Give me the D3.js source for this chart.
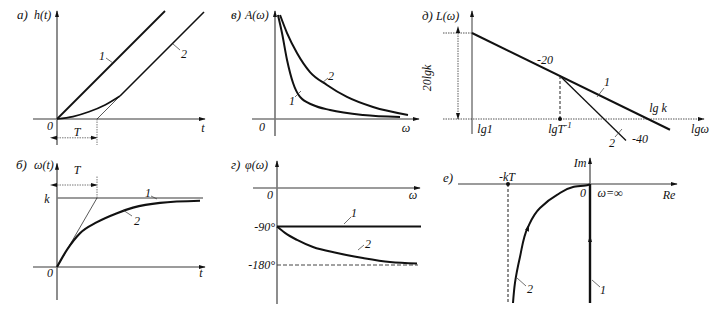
<!DOCTYPE html>
<html>
<head>
<meta charset="utf-8">
<script src="https://cdn.jsdelivr.net/npm/d3@7"></script>
<style>
  body { margin: 0; background: #fff; }
</style>
</head>
<body>
<svg width="724" height="322"></svg>
<script>
// values (T = 1, k = 1 in each panel's own units)

// а) h(t): line 1 and curve 2 with its asymptote
var hLine1T = [0, 2.7], hLine1 = [0, 2.7];
var hCurve2T = [0, 0.4, 0.8, 1.2, 1.575];
var hCurve2 = [0, 0.06, 0.18, 0.35, 0.575];
var hLine2T = [1.575, 3.675], hLine2 = [0.575, 2.675];

// б) ω(t)
var wT = [0, 0.25, 0.575, 1, 1.5, 1.9, 2.575, 3.575];
var wCurve2 = [0, 0.25, 0.49, 0.65, 0.78, 0.86, 0.93, 0.96];

// в) A(ω)
var aW1 = [0.21, 0.5, 0.86, 1.29, 1.79, 2.71, 3.93, 6.29, 8.93];
var aCurve1 = [9.81, 8.11, 5.57, 3.40, 2.08, 1.32, 0.85, 0.38, 0.19];
var aW2 = [0.36, 0.86, 1.57, 2.5, 3.71, 5.14, 7.0, 9.5];
var aCurve2 = [9.81, 8.11, 6.23, 4.43, 3.21, 2.08, 1.13, 0.38];

// д) L(ω), lg ω in decades, L in dB
var lTicks = [0, 1, 2], lTickLabels = ["lg1", "lgT", "lg k"];
var lLine1W = [0, 2.25], lLine1 = [40, -5];
var lLine2W = [1, 1.75], lLine2 = [20, -10];

// г) φ(ω), degrees
var pW = [0, 0.57, 1.43, 2.57, 4.29, 6.14, 8.07, 10];
var pCurve2 = [-90, -105, -121.5, -138, -152, -163.6, -173, -176.5];

// е) W(jω) plane
var nRe2 = [-0.939, -0.915, -0.854, -0.756, -0.61, -0.402, -0.207, -0.024, 0];
var nIm2 = [-1.451, -1.207, -0.89, -0.524, -0.293, -0.134, -0.037, -0.012, 0];

var svg = d3.select("svg");
var defs = svg.append("defs");
defs.append("marker").attr("id", "arr").attr("viewBox", "0 -4 10 8")
  .attr("refX", 9).attr("refY", 0).attr("markerWidth", 7).attr("markerHeight", 6)
  .attr("markerUnits", "userSpaceOnUse").attr("orient", "auto")
  .append("path").attr("d", "M0,-3L10,0L0,3Z").attr("fill", "#111");
defs.append("marker").attr("id", "arrS").attr("viewBox", "0 -4 10 8")
  .attr("refX", 0).attr("refY", 0).attr("markerWidth", 7).attr("markerHeight", 6)
  .attr("markerUnits", "userSpaceOnUse").attr("orient", "auto-start-reverse")
  .append("path").attr("d", "M0,-3L10,0L0,3Z").attr("fill", "#111");

function seg(x1, y1, x2, y2, w, col, dash) {
  var l = svg.append("line").attr("x1", x1).attr("y1", y1).attr("x2", x2).attr("y2", y2)
    .attr("stroke", col || "#111").attr("stroke-width", w || 1);
  if (dash) l.attr("stroke-dasharray", dash);
  return l;
}
function axis(x1, y1, x2, y2, w, col, dash) {
  return seg(x1, y1, x2, y2, w || 1.7, col || "#7a7a7a", dash).attr("marker-end", "url(#arr)");
}
function txt(x, y, s, anchor, size) {
  var t = svg.append("text").attr("x", x).attr("y", y).text(s)
    .attr("font-family", "Liberation Serif").attr("font-style", "italic")
    .attr("font-size", size || 12).attr("fill", "#111");
  if (anchor) t.attr("text-anchor", anchor);
  return t;
}
function curve(xs, ys, sx, sy, w, kind) {
  var pts = xs.map(function(d, i) { return [d, ys[i]]; });
  var line = d3.line().x(function(d) { return sx(d[0]); }).y(function(d) { return sy(d[1]); })
    .curve(kind || d3.curveLinear);
  return svg.append("path").attr("d", line(pts)).attr("fill", "none")
    .attr("stroke", "#111").attr("stroke-width", w || 2);
}
function leader(x1, y1, x2, y2) { seg(x1, y1, x2, y2, 0.7, "#333"); }

// ---------- а) h(t)
var xa = d3.scaleLinear().domain([0, 1]).range([57, 97]);
var ya = d3.scaleLinear().domain([0, 1]).range([119, 79]);
axis(xa(-0.6), ya(0), xa(3.7), ya(0));
axis(xa(0), ya(-0.65), xa(0), ya(2.7));
curve(hLine1T, hLine1, xa, ya, 1.8);
seg(xa(1), ya(0), xa(1.575), ya(0.575), 0.7);
curve(hCurve2T, hCurve2, xa, ya, 1.6, d3.curveMonotoneX);
curve(hLine2T, hLine2, xa, ya, 1.6);
seg(xa(1), ya(0), xa(1), ya(-0.65), 0.8, "#555", "1.5,1");
seg(xa(0), ya(-0.47), xa(1), ya(-0.47), 0.8, "#555", "1.5,1")
  .attr("marker-end", "url(#arr)").attr("marker-start", "url(#arrS)");
txt(17, 19, "а)", null, 13); txt(34, 19, "h(t)");
txt(50, 130, "0", "middle"); txt(xa(0.5), 136, "T", "middle"); txt(203, 132, "t", "middle");
txt(102, 60, "1", "middle"); leader(106, 58, 113, 63);
txt(184, 58, "2", "middle"); leader(173, 44, 180, 50);

// ---------- б) ω(t)
var xb = d3.scaleLinear().domain([0, 1]).range([57, 97]);
var yb = d3.scaleLinear().domain([0, 1]).range([267, 198]);
axis(xb(-0.6), yb(0), xb(3.7), yb(0));
axis(xb(0), yb(-0.48), xb(0), yb(1.5));
seg(xb(0), yb(1), xb(3.65), yb(1), 1.7, "#7a7a7a");
seg(xb(0), yb(0), xb(1), yb(1), 0.7);
curve(wT, wCurve2, xb, yb, 2.2, d3.curveMonotoneX);
seg(xb(1), yb(1), xb(1), 176, 0.8, "#555", "1.5,1");
seg(xb(0), 185, xb(1), 185, 0.8, "#555", "1.5,1")
  .attr("marker-end", "url(#arr)").attr("marker-start", "url(#arrS)");
txt(16, 169, "б)", null, 13); txt(34, 169, "ω(t)");
txt(xb(0.5), 174, "T", "middle"); txt(47, 203, "k", "middle");
txt(50, 277, "0", "middle"); txt(201, 277, "t", "middle");
txt(148, 197, "1", "middle"); leader(151, 196, 157, 199);
txt(137, 225, "2", "middle"); leader(123, 210, 132, 216);

// ---------- в) A(ω)
var xc = d3.scaleLinear().domain([0, 10]).range([275, 415]);
var yc = d3.scaleLinear().domain([0, 10]).range([119, 13]);
axis(252, yc(0), 419, yc(0));
axis(xc(0), 136, xc(0), 11);
curve(aW1, aCurve1, xc, yc, 2, d3.curveMonotoneX);
curve(aW2, aCurve2, xc, yc, 2, d3.curveMonotoneX);
txt(231, 19, "в)", null, 13); txt(245, 19, "A(ω)");
txt(262, 131, "0", "middle"); txt(406, 132, "ω", "middle");
txt(331, 80, "2", "middle"); leader(322, 83, 328, 78);
txt(292, 105, "1", "middle"); leader(295, 97, 301, 91);

// ---------- д) L(ω)
var xd = d3.scaleLinear().domain([0, 1]).range([472, 560]);
var yd = d3.scaleLinear().domain([0, 40]).range([119, 33]);
axis(443, yd(0), 704, yd(0), 1, "#555", "1.5,1");
axis(xd(0), 134, xd(0), 11, 0.9, "#222");
seg(443, yd(40), xd(0), yd(40), 1, "#555", "1.5,1");
seg(458, yd(40), 458, yd(0), 0.8, "#333", "1.5,1")
  .attr("marker-end", "url(#arr)").attr("marker-start", "url(#arrS)");
curve(lLine1W, lLine1, xd, yd, 2);
curve(lLine2W, lLine2, xd, yd, 1.3);
seg(xd(1), yd(20), xd(1), yd(0), 1, "#222", "3,2");
svg.append("circle").attr("cx", xd(1)).attr("cy", yd(0)).attr("r", 2).attr("fill", "#111");
txt(422, 20, "д)", null, 13); txt(436, 20, "L(ω)");
txt(0, 0, "20lgk", "middle").attr("transform", "translate(431,78) rotate(-90)");
txt(485, 133, lTickLabels[0], "middle");
var tl = txt(xd(lTicks[1]), 133, lTickLabels[1], "middle");
tl.append("tspan").attr("dy", -5).attr("font-size", 9).text("-1");
txt(xd(lTicks[2]) + 10, 112, lTickLabels[2], "middle");
txt(700, 133, "lgω", "middle");
txt(545, 64, "-20", "middle");
txt(607, 86, "1", "middle"); leader(597, 97, 604, 88);
txt(612, 147, "2", "middle"); leader(615, 137, 622, 129);
txt(640, 143, "-40", "middle");

// ---------- г) φ(ω)
var xg = d3.scaleLinear().domain([0, 10]).range([277, 417]);
var yg = d3.scaleLinear().domain([0, -180]).range([188, 265]);
axis(253, yg(0), 420, yg(0));
axis(xg(0), 304, xg(0), 161);
seg(xg(0), yg(-90), 421, yg(-90), 2, "#111");
seg(xg(0), yg(-180), 418, yg(-180), 1, "#444", "4,2");
curve(pW, pCurve2, xg, yg, 2, d3.curveMonotoneX);
txt(231, 169, "г)", null, 13); txt(245, 169, "φ(ω)");
txt(270, 199, "0", "middle"); txt(413, 199, "ω", "middle");
txt(275, 231, "-90°", "end"); txt(275, 269, "-180°", "end");
txt(354, 217, "1", "middle"); leader(344, 224, 351, 217);
txt(368, 248, "2", "middle"); leader(358, 250, 364, 245);

// ---------- е) W(jω)
var xe = d3.scaleLinear().domain([-1, 0]).range([508, 590]);
var ye = d3.scaleLinear().domain([0, -1]).range([184, 266]);
axis(458, ye(0), 677, ye(0));
axis(xe(0), 303, xe(0), 158);
seg(xe(-1), ye(0), xe(-1), 303, 1.2, "#444", "3,2");
svg.append("circle").attr("cx", xe(-1)).attr("cy", ye(0)).attr("r", 2).attr("fill", "#111");
seg(xe(0), 303, xe(0), ye(0), 2.4, "#111");
curve(nRe2, nIm2, xe, ye, 2, d3.curveMonotoneY);
// direction arrows
seg(xe(0), 242, xe(0), 236, 0.1).attr("marker-end", "url(#arr)");
seg(xe(-0.762), ye(-0.55), xe(-0.745), ye(-0.5), 0.1).attr("marker-end", "url(#arr)");
txt(443, 182, "е)", null, 13);
txt(507, 181, "-kT", "middle");
txt(580, 167, "Im", "middle");
txt(583, 197, "0", "middle"); txt(610, 197, "ω=∞", "middle");
txt(669, 199, "Re", "middle");
txt(603, 294, "1", "middle"); leader(592, 280, 600, 287);
txt(530, 293, "2", "middle"); leader(517, 278, 526, 286);
</script>
</body>
</html>
